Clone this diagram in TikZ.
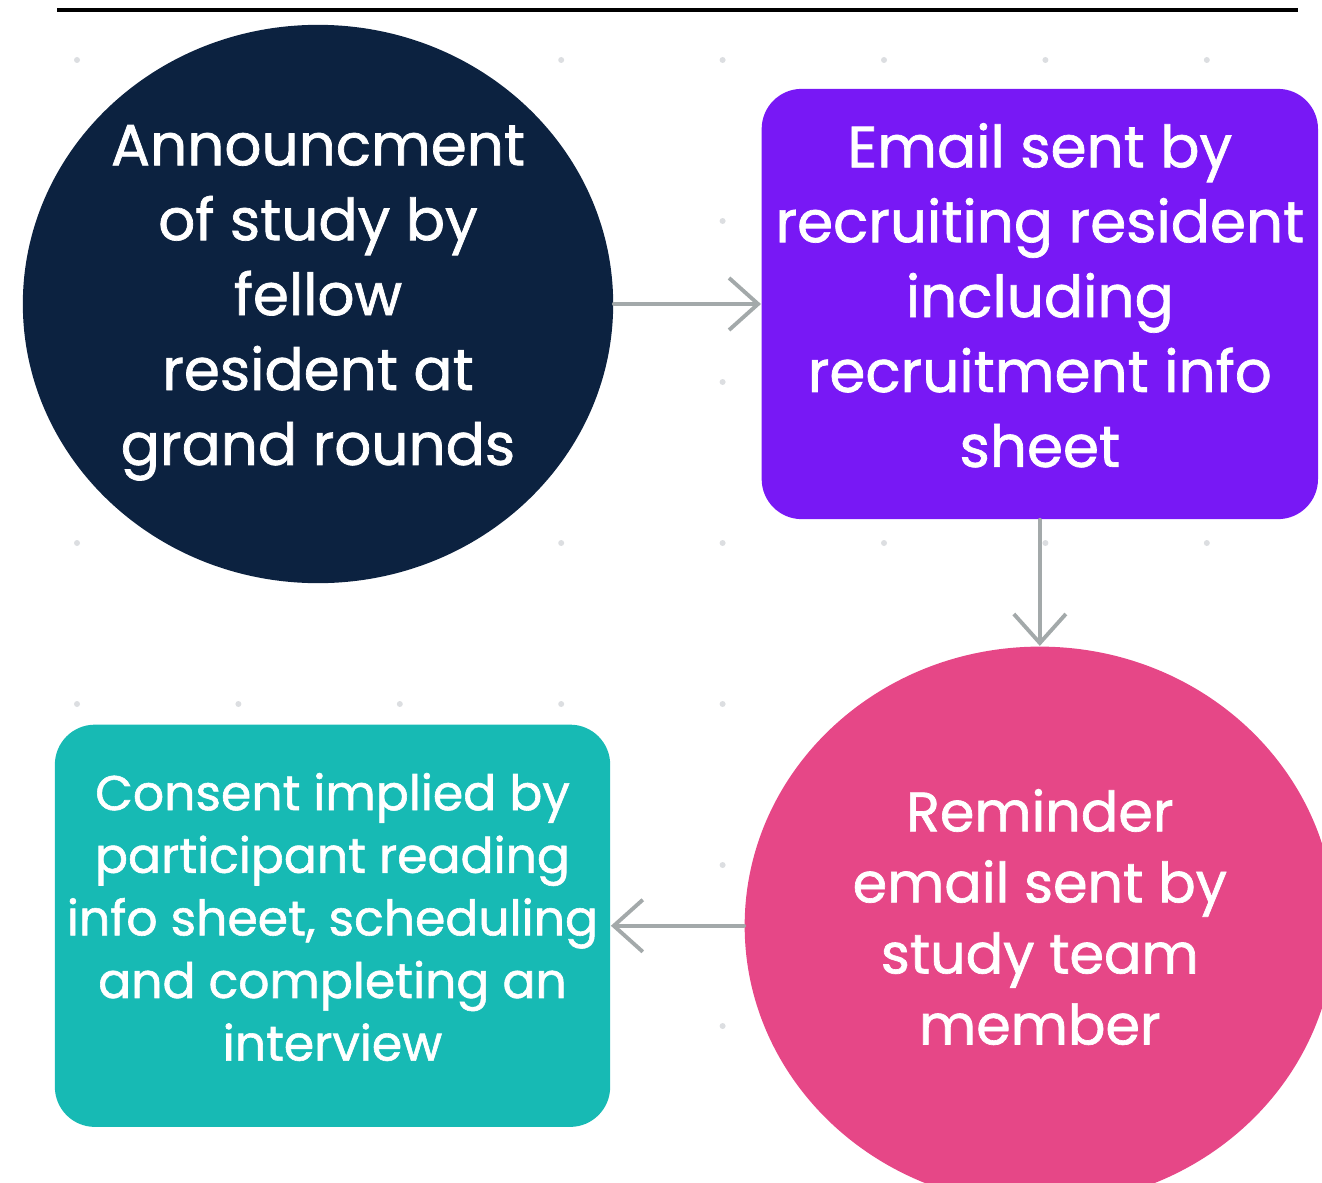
\documentclass[tikz,border=0pt]{standalone}
\usepackage{fontspec}
\setmainfont[FakeBold=1.2]{Poppins}
\usetikzlibrary{positioning,shapes.geometric,arrows.meta}
\definecolor{navyfill}{HTML}{0C2240}
\definecolor{purplefill}{HTML}{7818F5}
\definecolor{pinkfill}{HTML}{E64787}
\definecolor{tealfill}{HTML}{17BAB4}
\definecolor{arrowgray}{HTML}{A3A9AA}
\definecolor{dotgray}{HTML}{DCDEE1}
\tikzset{
    stepcircle/.style={ellipse, fill=#1, text=white, align=center, inner sep=0pt,
        text depth=0.18cm, minimum width=5.9cm, minimum height=5.58cm},
    stepbox/.style={rectangle, rounded corners=0.4cm, fill=#1, text=white, align=center,
        text depth=0.18cm, inner sep=0pt},
    flowarrow/.style={draw=arrowgray, line width=1.1pt, line cap=round,
        -{Straight Barb[length=2.9mm, width=5.2mm]}}
}
\begin{document}
\begin{tikzpicture}[x=0.01cm, y=-0.01cm]
    \useasboundingbox (0,0) rectangle (1322,1182);
    \clip (0,0) rectangle (1322,1182);
    % Background dot grid
    \foreach \i in {0,...,7}
        \foreach \j in {0,...,6}
            \fill[dotgray] (77+161.4*\i, 60+161*\j) circle (3);
    % Top rule
    \draw[line width=1.3pt] (57,10) -- (1298,10);
    % Nodes
    \node (announce) [stepcircle=navyfill, font=\fontsize{16.5}{21.3}\selectfont] at (318,304)
        {Announcment\\of study by\\fellow\\resident at\\grand rounds};
    \node (email) [stepbox=purplefill, font=\fontsize{16.5}{21.3}\selectfont,
        minimum width=5.56cm, minimum height=4.3cm, right=1.47cm of announce]
        {Email sent by\\recruiting resident\\including\\recruitment info\\sheet};
    \node (reminder) [stepcircle=pinkfill, font=\fontsize{15.8}{20.2}\selectfont, below=1.26cm of email]
        {Reminder\\email sent by\\study team\\member};
    \node (consent) [stepbox=tealfill, font=\fontsize{13.9}{17.8}\selectfont,
        minimum width=5.55cm, minimum height=4.02cm, left=1.33cm of reminder]
        {Consent implied by\\participant reading\\info sheet, scheduling\\and completing an\\interview};
    % Arrows
    \draw [flowarrow] (announce) -- (email);
    \draw [flowarrow] (email) -- (reminder);
    \draw [flowarrow] (reminder) -- (consent);
\end{tikzpicture}
\end{document}
